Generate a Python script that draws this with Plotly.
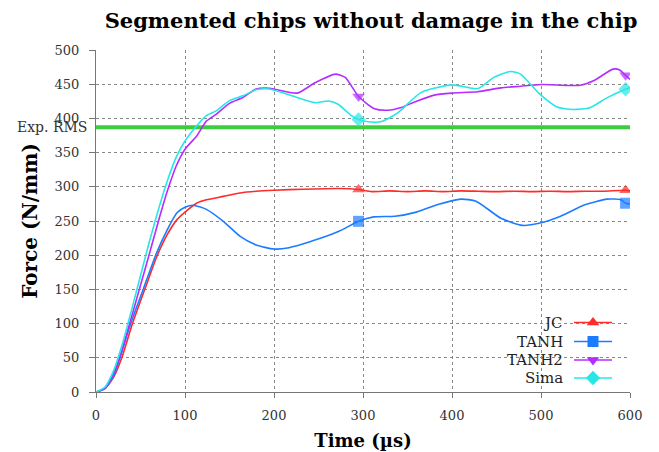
import plotly.graph_objects as go

# ---------------- data ----------------
jc_t = [0, 10, 20, 29, 41, 57, 68, 80, 91, 100, 113, 124, 143, 162, 180, 200, 233, 273, 295,
        310, 330, 350, 370, 390, 410, 430, 450, 470, 490, 510, 530, 550, 570, 595, 600]
jc_v = [0, 5, 22, 50, 100, 158, 197, 230, 252, 263, 276, 281, 286, 291, 293.5, 295, 296.5, 297.5, 296,
        293, 294, 293, 294, 293, 294, 293.5, 293, 293.5, 293, 293.5, 293, 293.5, 293.5, 295, 294]

tanh_t = [0, 10, 20, 27, 39, 53, 68, 80, 91, 100, 109, 124, 143, 162, 180, 200, 217, 253, 273, 295,
          312, 336, 360, 384, 410, 427, 455, 479, 499, 522, 550, 574, 590, 595, 600]
tanh_v = [0, 5, 24, 50, 100, 150, 203, 237, 262, 270, 273, 267, 249.5, 227.5, 215, 209, 211, 225, 235, 249.5,
          256, 257, 263, 274, 282, 279, 254, 243.6, 247, 257, 274, 282, 281, 276, 275]

tanh2_t = [0, 10, 20, 30, 40, 50, 60, 70, 80, 90, 100, 113, 124, 135, 150, 165, 180, 195, 226, 246, 269,
           280, 295, 313, 328, 343, 358, 380, 400, 429, 455, 477, 500, 544, 559, 581, 588, 595, 600]
tanh2_v = [0, 6, 28, 65, 110, 156, 202, 249, 293, 330, 355, 374, 396, 406, 422, 430.5, 443, 444, 437, 452, 464.7,
           460, 432, 414, 412, 416, 424, 434, 437, 439, 444.6, 447, 449.5, 448.5, 455, 472, 471, 463, 457]

sima_t = [0, 10, 20, 30, 40, 50, 60, 70, 80, 90, 100, 113, 124, 135, 150, 165, 180, 195, 220, 246, 261, 272,
          287, 295, 306, 321, 339, 365, 400, 429, 447, 466, 477, 499, 518, 536, 555, 574, 595, 600]
sima_v = [0, 7, 32, 72, 120, 170, 220, 266, 308, 343, 367, 389, 404, 411, 426, 433, 442, 443, 433, 423, 425.5, 420.6,
          404, 398.5, 395, 395.6, 408, 437.7, 449, 443.6, 460, 468.6, 464.7, 435, 416.7, 413, 415.7, 430, 442.6, 445]

exp_rms = 387
marker_times = [295, 595]

x_ticks = [0, 100, 200, 300, 400, 500, 600]
y_ticks = [0, 50, 100, 150, 200, 250, 300, 350, 400, 450, 500]

series = [
    ("JC", jc_t, jc_v, "#ff2a2a", "triangle-up"),
    ("TANH", tanh_t, tanh_v, "#1c7cff", "square"),
    ("TANH2", tanh2_t, tanh2_v, "#b42cff", "triangle-down"),
    ("Sima", sima_t, sima_v, "#28e6e6", "diamond"),
]

FONT = "DejaVu Serif"
W, H = 651, 444          # page has an 8px body margin
L, R, T, B = 88, 622, 42, 384   # plot area in figure pixels

fig = go.Figure()

# Exp. RMS line
fig.add_trace(go.Scatter(x=[0, 600], y=[exp_rms, exp_rms], mode="lines",
                         line=dict(color="#3ccc3c", width=4), showlegend=False, hoverinfo="skip"))

for name, t, v, col, sym in series:
    sizes = [11 if ti in marker_times else 0 for ti in t]
    fig.add_trace(go.Scatter(x=t, y=v, mode="lines+markers", name=name,
                             line=dict(color=col, width=1.6, shape="spline", smoothing=0.6),
                             marker=dict(symbol=sym, size=sizes, color=col, line=dict(width=0)),
                             showlegend=False))

# custom legend (text left of sample) on a pixel-mapped overlay axis
rows = [314.5, 333.5, 352, 370]
for (name, t, v, col, sym), ry in zip(series, rows):
    fig.add_trace(go.Scatter(x=[566, 604], y=[ry, ry], mode="lines", xaxis="x2", yaxis="y2",
                             line=dict(color=col, width=1.6), showlegend=False, hoverinfo="skip"))
    fig.add_trace(go.Scatter(x=[585], y=[ry], mode="markers", xaxis="x2", yaxis="y2",
                             marker=dict(symbol=sym, size=11, color=col, line=dict(width=0)),
                             showlegend=False, hoverinfo="skip"))
    fig.add_annotation(x=557, y=ry, xref="x2", yref="y2", text=name, showarrow=False,
                       xanchor="right", yanchor="middle", font=dict(family=FONT, size=15, color="#222"))

fig.add_annotation(x=0, y=exp_rms, xref="paper", yref="y", text="Exp. RMS", showarrow=False,
                   xanchor="right", yanchor="middle", xshift=-7,
                   font=dict(family=FONT, size=14, color="#333"))

fig.update_layout(
    width=W, height=H,
    margin=dict(l=L, r=W - R, t=T, b=H - B, autoexpand=False),
    paper_bgcolor="white", plot_bgcolor="white",
    title=dict(text="<b>Segmented chips without damage in the chip</b>",
               x=363 / W, xanchor="center", xref="container", y=1 - 13 / H, yanchor="middle", yref="container",
               font=dict(family=FONT, size=21, color="black")),
    xaxis=dict(range=[0, 600], tickvals=x_ticks, showgrid=True, gridcolor="#888", griddash="dot", gridwidth=1,
               showline=True, linecolor="#777", linewidth=1.2, ticks="outside", ticklen=5, tickcolor="#777",
               zeroline=False, ticklabelstandoff=6, automargin=False,
               tickfont=dict(family=FONT, size=13, color="#333"),
               title=dict(text="<b>Time (µs)</b>", font=dict(family=FONT, size=18, color="black"), standoff=12)),
    yaxis=dict(range=[0, 500], tickvals=y_ticks, showgrid=True, gridcolor="#888", griddash="dot", gridwidth=1,
               showline=True, linecolor="#777", linewidth=1.2, ticks="outside", ticklen=6, tickcolor="#777",
               zeroline=False, ticklabelstandoff=7, automargin=False,
               tickfont=dict(family=FONT, size=13, color="#333"),
               title=dict(text="<b>Force (N/mm)</b>", font=dict(family=FONT, size=20, color="black"), standoff=11)),
    xaxis2=dict(range=[L, R], overlaying="x", visible=False, fixedrange=True),
    yaxis2=dict(range=[B, T], overlaying="y", visible=False, fixedrange=True),
    showlegend=False,
)

fig.write_html("out.html")
